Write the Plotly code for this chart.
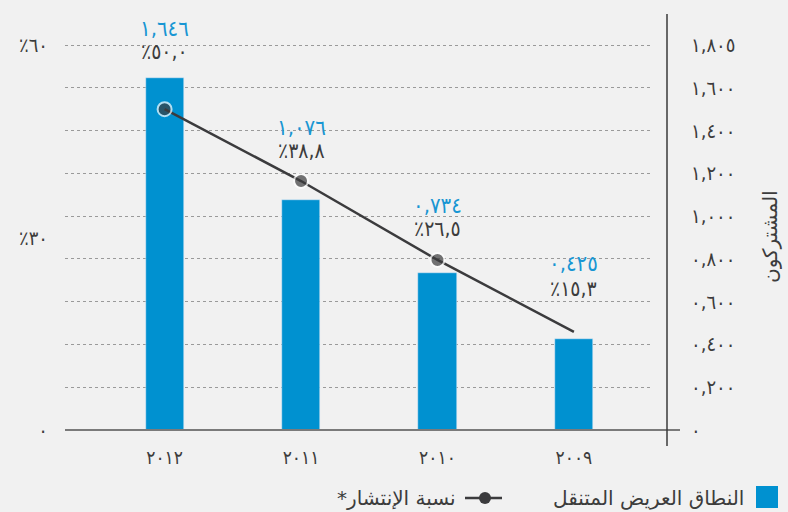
import plotly.graph_objects as go

# ---- data ----
years = ["٢٠١٢", "٢٠١١", "٢٠١٠", "٢٠٠٩"]
subscribers = [1.646, 1.076, 0.734, 0.425]          # millions
subscriber_labels = ["١,٦٤٦", "١,٠٧٦", "٠,٧٣٤", "٠,٤٢٥"]
penetration = [50.0, 38.8, 26.5, 15.3]              # percent
penetration_labels = ["٪٥٠,٠", "٪٣٨,٨", "٪٢٦,٥", "٪١٥,٣"]
right_ticks = [0, 0.2, 0.4, 0.6, 0.8, 1.0, 1.2, 1.4, 1.6, 1.8]
right_ticktext = ["٠", "٠,٢٠٠", "٠,٤٠٠", "٠,٦٠٠", "٠,٨٠٠", "١,٠٠٠",
                  "١,٢٠٠", "١,٤٠٠", "١,٦٠٠", "١,٨٠٥"]
left_ticks = [0, 30, 60]
left_ticktext = ["٠", "٪٣٠", "٪٦٠"]
bar_name = "النطاق العريض المتنقل"
line_name = "نسبة الإنتشار*\u200f"
axis_title = "المشتركون"

# ---- style ----
BG = "#f1f1f1"
BLUE = "#0091d0"
LABEL_BLUE = "#1896d3"
DARK = "#3b3b3d"
TEXT = "#3c3c3c"
FONT = "DejaVu Sans, sans-serif"
NUMFONT = "DejaVu Sans Condensed, DejaVu Sans, sans-serif"

L, R, T, B = 65, 137, 14, 82
W, H = 788, 512
PW, PH = W - L - R, H - T - B
YMAX = 1.8 * PH / 385.0
RATIO = 1.8 / 60.0


def px(x):
    return (x - L) / PW


def py(y):
    return (H - B - y) / PH


pct_shift = [57, 30, 31, 43]
num_shift = [81, 54, 54, 68]
marker_sizes = [14, 14, 14, 0]

fig = go.Figure()
fig.add_trace(go.Bar(
    x=years, y=subscribers, yaxis="y", marker_color=BLUE,
    width=0.28, name=bar_name, showlegend=False, hoverinfo="skip",
))
fig.add_trace(go.Scatter(
    x=years, y=penetration, yaxis="y2", mode="lines+markers",
    line=dict(color=DARK, width=2.5),
    marker=dict(size=marker_sizes, color=DARK, line=dict(color="#ffffff", width=2)),
    name=line_name, showlegend=False, hoverinfo="skip",
))

ann = []
for i, yv in enumerate(years):
    ann.append(dict(x=yv, y=penetration[i], xref="x", yref="y2",
                    text=penetration_labels[i], showarrow=False,
                    yshift=pct_shift[i], font=dict(size=21, color=TEXT, family=NUMFONT)))
    ann.append(dict(x=yv, y=penetration[i], xref="x", yref="y2",
                    text=subscriber_labels[i], showarrow=False,
                    yshift=num_shift[i], font=dict(size=22, color=LABEL_BLUE, family=NUMFONT)))

# axis title (right)
ann.append(dict(x=px(770), y=py(237), xref="paper", yref="paper", text=axis_title,
                xanchor="center", yanchor="middle",
                textangle=-90, showarrow=False, font=dict(size=20, color=TEXT, family=FONT)))
# legend texts
ann.append(dict(x=px(746), y=py(498), xref="paper", yref="paper", text=bar_name,
                xanchor="right", yanchor="middle", showarrow=False,
                font=dict(size=20, color=TEXT, family=FONT)))
ann.append(dict(x=px(458), y=py(498), xref="paper", yref="paper", text=line_name,
                xanchor="right", yanchor="middle", showarrow=False,
                font=dict(size=20, color=TEXT, family=FONT)))

shapes = [
    # baseline
    dict(type="line", xref="paper", yref="paper", x0=0, x1=px(680), y0=0, y1=0,
         line=dict(color="#7a7a7a", width=2)),
    # right vertical axis line
    dict(type="line", xref="paper", yref="paper", x0=px(667), x1=px(667),
         y0=py(446), y1=py(14), line=dict(color="#3a3a3a", width=1.5)),
    # legend: blue square
    dict(type="rect", xref="paper", yref="paper", x0=px(756), x1=px(778),
         y0=py(508), y1=py(486), fillcolor=BLUE, line=dict(width=0)),
    # legend: line symbol
    dict(type="line", xref="paper", yref="paper", x0=px(465), x1=px(502),
         y0=py(498), y1=py(498), line=dict(color=DARK, width=2.5)),
    dict(type="circle", xref="paper", yref="paper", x0=px(479), x1=px(491),
         y0=py(504), y1=py(492), fillcolor=DARK, line=dict(width=0)),
]

fig.update_layout(
    width=W, height=H,
    margin=dict(l=L, r=R, t=T, b=B),
    paper_bgcolor=BG, plot_bgcolor=BG,
    font=dict(family=FONT, color=TEXT, size=18),
    showlegend=False,
    bargap=0,
    xaxis=dict(type="category", range=[-0.73, 3.565], showgrid=False, zeroline=False,
               showline=False, ticks="outside", ticklen=10, tickcolor="rgba(0,0,0,0)",
               tickfont=dict(size=19, color=TEXT, family=NUMFONT)),
    yaxis=dict(side="right", range=[0, YMAX], tickvals=right_ticks, ticktext=right_ticktext,
               showgrid=True, gridcolor="#9a9a9a", griddash="dot", gridwidth=1,
               zeroline=False, showline=False, ticks="outside", ticklen=35,
               tickcolor="rgba(0,0,0,0)", tickfont=dict(size=20, color=TEXT, family=NUMFONT)),
    yaxis2=dict(side="left", overlaying="y", range=[0, YMAX / RATIO], tickvals=left_ticks,
                ticktext=left_ticktext, showgrid=False, zeroline=False, showline=False,
                ticks="outside", ticklen=12, tickcolor="rgba(0,0,0,0)",
                tickfont=dict(size=20, color=TEXT, family=NUMFONT)),
    annotations=ann,
    shapes=shapes,
)

fig.write_html("out.html", config={"displayModeBar": False},
               post_script="document.body.style.margin='0';document.body.style.overflow='hidden';")
